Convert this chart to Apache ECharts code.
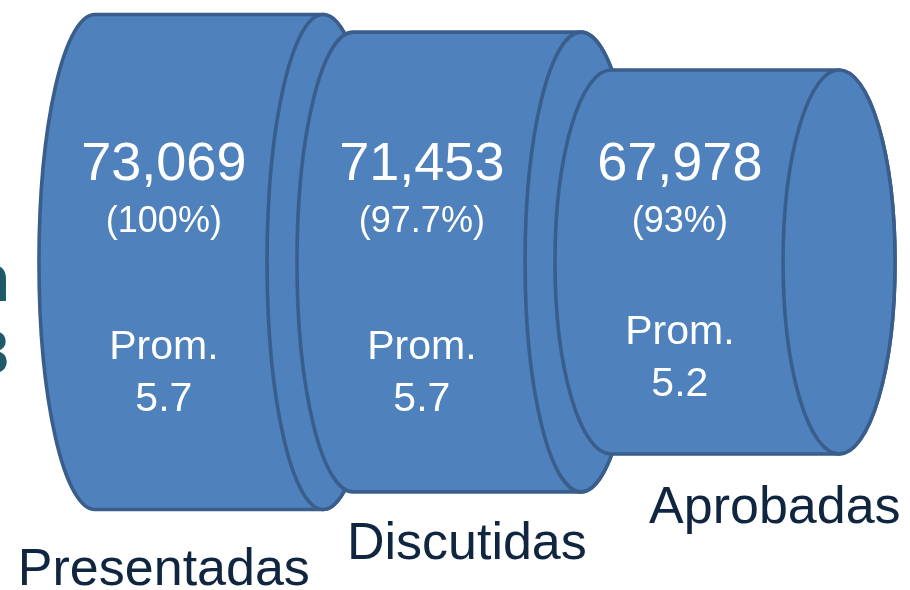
<!DOCTYPE html>
<html>
<head>
<meta charset="utf-8">
<style>
  html, body { margin: 0; padding: 0; background: #ffffff; }
  #chart { width: 910px; height: 590px; }
</style>
<script src="https://cdn.jsdelivr.net/npm/echarts@6/dist/echarts.min.js"></script>
</head>
<body>
<div id="chart"></div>
<script>
// ---- data ----
const categories = ['Presentadas', 'Discutidas', 'Aprobadas'];
const totals = [73069, 71453, 67978];
const percentLabels = ['(100%)', '(97.7%)', '(93%)'];
const averages = ['5.7', '5.7', '5.2'];

// ---- layout / style constants ----
const AXIS_MIN = 26300, AXIS_MAX = 74400;
const MID = (AXIS_MIN + AXIS_MAX) / 2;
const FONT = '"Liberation Sans", Arial, sans-serif';
const FILL = '#4F81BD', STROKE = '#3A5E8C';
const LABEL_DX = [-45, 0, 50];   // category label horizontal offset
const LABEL_DY = [61, 53, 55];   // category label distance below cylinder
const PROM_SHIFT = [0, 0, -15];  // vertical shift of average text

const chart = echarts.init(document.getElementById('chart'), null, { renderer: 'canvas' });

const option = {
  animation: false,
  backgroundColor: '#ffffff',
  grid: { left: 80, width: 774, top: 0, height: 524 },
  xAxis: { type: 'category', data: categories, show: false },
  yAxis: { type: 'value', min: AXIS_MIN, max: AXIS_MAX, show: false },
  graphic: [
    { type: 'text', x: 10, y: 283, style: { text: 'n', font: 'bold 66px ' + FONT, fill: '#1F5A6A', align: 'right', verticalAlign: 'middle' } },
    { type: 'text', x: 9, y: 356, style: { text: '3', font: 'bold 62px ' + FONT, fill: '#1F5A6A', align: 'right', verticalAlign: 'middle' } }
  ],
  series: [{
    type: 'custom',
    data: totals.map((v, i) => [i, v]),
    renderItem: function (params, api) {
      const i = params.dataIndex;
      const v = api.value(1);
      const topPt = api.coord([i, v]);
      const botPt = api.coord([i, 2 * MID - v]);
      const cx = topPt[0];
      const top = topPt[1], bottom = botPt[1];
      const band = api.size([1, 0])[0];
      const half = band * 0.442;
      const rx = band * 0.217;
      const ry = (bottom - top) / 2;
      const xl = cx - half, xr = cx + half;
      const body = 'M' + xl + ' ' + top + ' L' + xr + ' ' + top +
        ' A' + rx + ' ' + ry + ' 0 0 1 ' + xr + ' ' + bottom +
        ' L' + xl + ' ' + bottom +
        ' A' + rx + ' ' + ry + ' 0 0 1 ' + xl + ' ' + top + ' Z';
      const face = 'M' + xr + ' ' + top +
        ' A' + rx + ' ' + ry + ' 0 0 1 ' + xr + ' ' + bottom +
        ' A' + rx + ' ' + ry + ' 0 0 1 ' + xr + ' ' + top + ' Z';
      const tx = cx - band * 0.175;
      const white = '#ffffff';
      return {
        type: 'group',
        children: [
          { type: 'path', shape: { pathData: body }, style: { fill: FILL, stroke: STROKE, lineWidth: 3.6 } },
          { type: 'path', shape: { pathData: face }, style: { fill: FILL, stroke: STROKE, lineWidth: 3.6 } },
          { type: 'text', x: tx, y: 165, style: { text: v.toLocaleString('en-US'), font: '54px ' + FONT, fill: white, align: 'center', verticalAlign: 'middle' } },
          { type: 'text', x: tx, y: 222, style: { text: percentLabels[i], font: '36px ' + FONT, fill: white, align: 'center', verticalAlign: 'middle' } },
          { type: 'text', x: tx, y: 348 + PROM_SHIFT[i], style: { text: 'Prom.', font: '41px ' + FONT, fill: white, align: 'center', verticalAlign: 'middle' } },
          { type: 'text', x: tx, y: 400 + PROM_SHIFT[i], style: { text: averages[i], font: '41px ' + FONT, fill: white, align: 'center', verticalAlign: 'middle' } },
          { type: 'text', x: tx + 45 + LABEL_DX[i], y: bottom + LABEL_DY[i], style: { text: categories[i], font: '52px ' + FONT, fill: '#10253F', align: 'center', verticalAlign: 'middle' } }
        ]
      };
    }
  }]
};
chart.setOption(option);
</script>
</body>
</html>
